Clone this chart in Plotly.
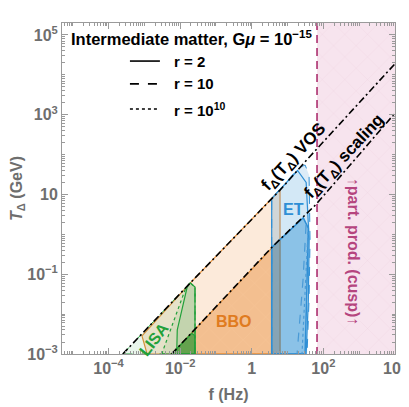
import plotly.graph_objects as go

# f_Delta(T_Delta) curves (f in Hz, T in GeV)
vos_f = [2.5e-4, 1.9e-2, 6.2, 34, 1e4]
vos_T = [1e-3, 0.06, 13, 73, 1.9e4]
scal_f = [5.8e-3, 3.6, 62, 1e4]
scal_T = [1e-3, 0.47, 5.6, 1.1e3]

# particle production (cusp) bound
f_cusp = 66.5

# LISA regions
lisa_a_f = [2.5e-4, 1.9e-2, 0.026, 0.026]
lisa_a_T = [1e-3, 0.061, 0.048, 1e-3]
lisa_b_f = [3.05e-3, 0.0137, 1.9e-2, 0.026, 0.026]
lisa_b_T = [1e-3, 0.0405, 0.061, 0.048, 1e-3]
lisa_c_f = [8.0e-3, 8.3e-3, 0.0158, 1.9e-2, 0.026, 0.026]
lisa_c_T = [1e-3, 4.0e-3, 0.049, 0.061, 0.048, 1e-3]
lisa_d_f = [5.8e-3, 0.021, 0.026, 0.026]
lisa_d_T = [1e-3, 3.3e-3, 2.85e-3, 1e-3]

# BBO regions
bbo_a_f = [1.19e-3, 8.6e-4, 1.9e-2, 6.15, 6.15]
bbo_a_T = [1e-3, 2.85e-3, 0.06, 13, 1e-3]
bbo_b_f = [5.8e-3, 3.6, 6.15, 6.15]
bbo_b_T = [1e-3, 0.47, 0.75, 1e-3]

# ET regions
et_a_f = [3.6, 3.6, 20, 30.8, 39.8, 42.4, 39.8, 35]
et_a_T = [1e-3, 7.9, 45.5, 55, 31, 0.73, 0.0228, 1e-3]
et_c_f = [3.6, 3.6, 19, 33, 40, 38, 33]
et_c_T = [1e-3, 7.9, 40, 20, 0.73, 0.0228, 1e-3]
et_b_f = [3.6, 3.6, 27.5, 38, 34, 30.8]
et_b_T = [1e-3, 0.47, 2.6, 1.43, 0.0228, 1e-3]
et_dash_f = [32.8, 27, 18.4]
et_dash_T = [1.73, 0.072, 1e-3]
et_dot_f = [37.3, 30.8, 25.3]
et_dot_T = [1.15, 0.0228, 1e-3]

GREEN = '#22a03a'
ORANGE = '#e8903a'
BLUE = '#2f8fd5'
PINK = '#b5457e'

fig = go.Figure()


def region(fx, ty, fill, line, dash='solid', width=1.2, pattern=None):
    kw = dict(x=fx + [fx[0]], y=ty + [ty[0]], mode='lines', fill='toself',
              fillcolor=fill, line=dict(color=line, width=width, dash=dash),
              hoverinfo='skip', showlegend=False)
    if pattern:
        kw['fillpattern'] = pattern
    fig.add_trace(go.Scatter(**kw))


def mesh(bg, fg, op):
    # faint diagonal mesh like the one in the original region plots
    return dict(shape='x', size=16, solidity=0.04, fgcolor=fg, fgopacity=op, bgcolor=bg)


# pink excluded region
region([f_cusp, 1e5, 1e5, f_cusp], [1e-4, 1e-4, 1e6, 1e6], 'rgba(200,70,140,0.15)',
       'rgba(0,0,0,0)', width=0,
       pattern=mesh('rgba(200,70,140,0.15)', 'rgb(200,150,180)', 0.25))

# BBO
region(bbo_a_f, bbo_a_T, 'rgba(240,140,50,0.18)', ORANGE, width=1.2)
region(bbo_b_f, bbo_b_T, 'rgba(232,130,40,0.42)', ORANGE, width=1.2,
       pattern=mesh('rgba(232,130,40,0.42)', 'rgb(250,215,180)', 0.35))

# LISA
region(lisa_a_f, lisa_a_T, 'rgba(40,160,60,0.10)', GREEN, dash='dash', width=1)
region(lisa_b_f, lisa_b_T, 'rgba(40,160,60,0.09)', GREEN, dash='dot', width=1.2)
region(lisa_c_f, lisa_c_T, 'rgba(40,160,60,0.10)', GREEN, width=1.2)
region(lisa_d_f, lisa_d_T, 'rgba(40,150,50,0.6)', GREEN, width=1.2)

# ET
region(et_a_f, et_a_T, 'rgba(60,150,215,0.18)', BLUE, dash='dash', width=1)
region(et_c_f, et_c_T, 'rgba(60,150,215,0.05)', BLUE, width=1.2)
region(et_b_f, et_b_T, 'rgba(40,140,210,0.42)', BLUE, width=1.5)
fig.add_trace(go.Scatter(x=et_dash_f, y=et_dash_T, mode='lines', hoverinfo='skip',
                         line=dict(color='#4a9ad6', width=1.2, dash='dash'), showlegend=False))
fig.add_trace(go.Scatter(x=et_dot_f, y=et_dot_T, mode='lines', hoverinfo='skip',
                         line=dict(color='#4a9ad6', width=1.2, dash='dot'), showlegend=False))

# f_Delta(T_Delta) lines
for fx, ty in [(vos_f, vos_T), (scal_f, scal_T)]:
    fig.add_trace(go.Scatter(x=fx, y=ty, mode='lines', hoverinfo='skip', showlegend=False,
                             line=dict(color='black', width=1.6, dash='7px,3px,2px,3px')))

# cusp bound line
fig.add_trace(go.Scatter(x=[f_cusp, f_cusp], y=[1e-4, 1e6], mode='lines', hoverinfo='skip',
                         showlegend=False, line=dict(color=PINK, width=1.8, dash='8px,5px')))

# legend samples (paper coords)
for yy, dash, lbl in [(0.885, 'solid', 'r = 2'), (0.816, 'dash', 'r = 10'),
                      (0.740, 'dot', 'r = 10<sup>10</sup>')]:
    fig.add_shape(type='line', xref='paper', yref='paper', x0=0.204, x1=0.294, y0=yy, y1=yy,
                  line=dict(color='black', width=1.6, dash=dash))
    fig.add_annotation(xref='paper', yref='paper', x=0.33, y=yy, text=lbl, showarrow=False,
                       xanchor='left', yanchor='middle',
                       font=dict(size=15, color='black', weight='bold'))
fig.add_annotation(xref='paper', yref='paper', x=0.02, y=0.955,
                   text='Intermediate matter, G<i>μ</i> = 10<sup>−15</sup>', showarrow=False,
                   xanchor='left', yanchor='middle', font=dict(size=16.5, color='black', weight='bold'))

# labels in the plot (log10 coordinates)
labels = [
    (-2.73, -2.645, 'LISA', GREEN, 16, -52),
    (-0.496, -2.19, 'BBO', '#e07b20', 16, 0),
    (1.161, 0.613, 'ET', BLUE, 16, 0),
    (1.18, 1.917, 'f<sub>Δ</sub>(T<sub>Δ</sub>) VOS', 'black', 17, -47),
    (2.605, 1.942, 'f<sub>Δ</sub>(T<sub>Δ</sub>) scaling', 'black', 17, -47),
    (2.829, -0.439, '↑part. prod. (cusp)↑', PINK, 16, 90),
]
for lx, ly, txt, col, sz, ang in labels:
    fig.add_annotation(x=lx, y=ly, text=txt, showarrow=False, textangle=ang,
                       font=dict(size=sz, color=col, weight='bold'))

minor_x = [k * 10.0 ** n for n in range(-6, 5) for k in range(1, 10)
           if 10 ** -5.3 <= k * 10.0 ** n <= 1e4 and not (k == 1 and n % 2 == 0)]
minor_y = [k * 10.0 ** n for n in range(-3, 6) for k in range(1, 10)
           if 1e-3 <= k * 10.0 ** n <= 10 ** 5.3 and not (k == 1 and n % 2 == 1)]

axis_common = dict(type='log', showgrid=False, zeroline=False, showline=True, automargin=False,
                   linecolor='#9a9a9a', linewidth=1, mirror='allticks', ticks='inside',
                   ticklen=6, tickcolor='#9a9a9a', tickwidth=1, ticklabeloverflow='allow',
                   tickfont=dict(family='Liberation Sans', size=16, color='#6e6e6e', weight='bold'),
                   title_font=dict(family='Liberation Sans', size=16, color='#6e6e6e', weight='bold'))

fig.update_xaxes(range=[-5.3, 4], tickvals=[1e-4, 1e-2, 1, 1e2, 1e4],
                 ticktext=['10<sup>−4</sup>', '10<sup>−2</sup>', '1', '10<sup>2</sup>', '10<sup>4</sup>'],
                 minor=dict(tickmode='array', tickvals=minor_x, ticks='inside', ticklen=3,
                            tickcolor='#9a9a9a'),
                 title_text='f (Hz)', title_standoff=12, **axis_common)
fig.update_yaxes(range=[-3, 5.3], tickvals=[1e-3, 1e-1, 10, 1e3, 1e5],
                 ticktext=['10<sup>−3</sup>', '10<sup>−1</sup>', '10', '10<sup>3</sup>', '10<sup>5</sup>'],
                 minor=dict(tickmode='array', tickvals=minor_y, ticks='inside', ticklen=3,
                            tickcolor='#9a9a9a'),
                 title_text='<i>T</i><sub>Δ</sub> (GeV)', title_standoff=6, **axis_common)

# the page body adds an 8px margin, so the figure is 8px smaller on each side
fig.update_layout(width=401, height=399, margin=dict(l=54, r=14, t=15, b=53),
                  plot_bgcolor='white', paper_bgcolor='white',
                  font=dict(family='Liberation Sans'))

fig.write_html('out.html')
